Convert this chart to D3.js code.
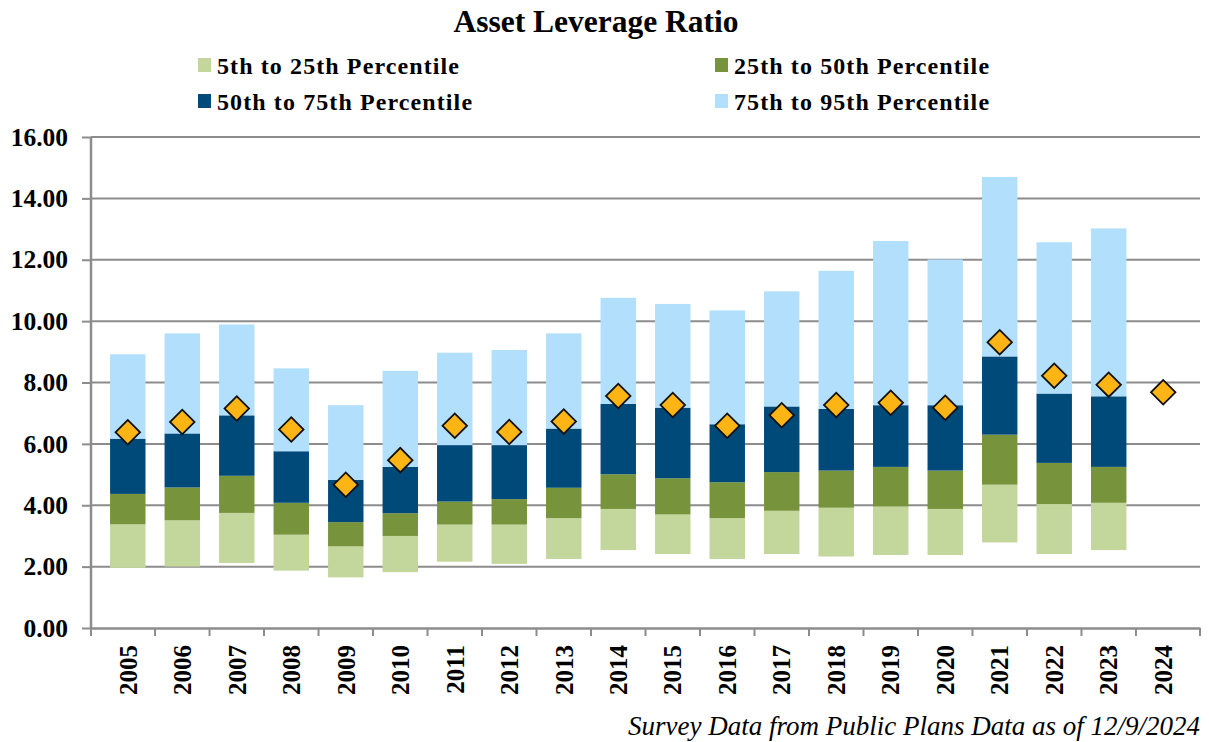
<!doctype html>
<html>
<head>
<meta charset="utf-8">
<title>Asset Leverage Ratio</title>
<style>
*{margin:0;padding:0;}
body{background:white;}
text{font-family:"Liberation Serif","Times New Roman",serif;}
</style>
</head>
<body>
<script src="https://cdn.jsdelivr.net/npm/d3@7"></script>
<script>
// data (percentile boundaries per year)
var years = ["2005","2006","2007","2008","2009","2010","2011","2012","2013","2014",
             "2015","2016","2017","2018","2019","2020","2021","2022","2023","2024"];
var p5  = [1.96,2.00,2.12,1.87,1.65,1.82,2.16,2.09,2.25,2.54,2.41,2.25,2.41,2.33,2.38,2.38,2.79,2.41,2.54,null];
var p25 = [3.38,3.51,3.75,3.04,2.66,3.00,3.37,3.37,3.58,3.88,3.70,3.58,3.82,3.92,3.96,3.88,4.67,4.04,4.08,null];
var p50 = [4.37,4.58,4.96,4.08,3.45,3.74,4.12,4.20,4.57,5.01,4.88,4.75,5.08,5.13,5.25,5.13,6.30,5.38,5.25,null];
var p75 = [6.17,6.34,6.93,5.76,4.83,5.25,5.96,5.96,6.50,7.30,7.18,6.64,7.22,7.14,7.26,7.26,8.85,7.64,7.55,null];
var p95 = [8.92,9.60,9.89,8.46,7.26,8.38,8.97,9.06,9.60,10.76,10.56,10.35,10.97,11.64,12.61,12.01,14.70,12.57,13.02,null];
var aggregate = [6.38,6.71,7.15,6.47,4.67,5.47,6.59,6.39,6.73,7.56,7.27,6.59,6.93,7.27,7.34,7.18,9.31,8.22,7.93,7.68];
var yTicks = [0,2,4,6,8,10,12,14,16];

var seriesNames = ["5th to 25th Percentile","25th to 50th Percentile","50th to 75th Percentile","75th to 95th Percentile"];
var seriesColors = ["#c3d69b","#77933c","#004a7a","#b2dffc"];
var bounds = [p5,p25,p50,p75,p95];

var W = 1209, H = 742;
var margin = {left:91, right:9, top:137, bottom:114};

var svg = d3.select("body").append("svg").attr("width",W).attr("height",H);

var x = d3.scaleBand().domain(years).range([margin.left, W-margin.right]).padding(0.35);
var y = d3.scaleLinear().domain([0,16]).range([H-margin.bottom, margin.top]);

// gridlines
svg.append("g").selectAll("line").data(yTicks.slice(1)).enter().append("line")
  .attr("x1",margin.left).attr("x2",W-margin.right)
  .attr("y1",function(d){return y(d);}).attr("y2",function(d){return y(d);})
  .attr("stroke","#8c8c8c").attr("stroke-width",2);

// stacked percentile bands
for (var s=0; s<4; s++) {
  (function(s){
    svg.append("g").selectAll("rect").data(years.filter(function(d,i){return bounds[s][i]!=null;})).enter()
      .append("rect")
      .attr("x",function(d){return x(d);})
      .attr("width",x.bandwidth())
      .attr("y",function(d){var i=years.indexOf(d);return y(bounds[s+1][i]);})
      .attr("height",function(d){var i=years.indexOf(d);return y(bounds[s][i])-y(bounds[s+1][i]);})
      .attr("fill",seriesColors[s]);
  })(s);
}

// y axis
var yAxis = svg.append("g").attr("transform","translate("+margin.left+",0)")
  .call(d3.axisLeft(y).tickValues(yTicks).tickFormat(d3.format(".2f")).tickSize(9).tickPadding(14));
yAxis.select(".domain").attr("stroke","#8c8c8c").attr("stroke-width",2.5).attr("d","M0,"+(margin.top)+"V"+(H-margin.bottom));
yAxis.selectAll(".tick line").attr("stroke","#8c8c8c").attr("stroke-width",2);
yAxis.selectAll(".tick text").attr("font-size",25.5).attr("font-weight","bold").attr("fill","#000")
  .style("font-family","'Liberation Serif',serif");

// x axis
var xAxis = svg.append("g").attr("transform","translate(0,"+(H-margin.bottom)+")")
  .call(d3.axisBottom(x).tickSize(0).tickSizeOuter(0));
xAxis.select(".domain").attr("stroke","#8c8c8c").attr("stroke-width",2.5);
xAxis.selectAll(".tick text")
  .attr("font-size",25).attr("font-weight","bold").attr("fill","#000")
  .style("font-family","'Liberation Serif',serif")
  .attr("transform","rotate(-90)")
  .attr("text-anchor","end").attr("x",-17).attr("y",0).attr("dy","0.35em");
// category separators
var sep = years.map(function(d){return x(d)-x.step()*x.paddingInner()/2;});
sep.push(W-margin.right);
sep[0] = margin.left;
svg.append("g").selectAll("line").data(sep).enter().append("line")
  .attr("x1",function(d){return d;}).attr("x2",function(d){return d;})
  .attr("y1",H-margin.bottom).attr("y2",H-margin.bottom+8)
  .attr("stroke","#8c8c8c").attr("stroke-width",2);

// aggregate diamonds
var sym = d3.symbol().type(d3.symbolSquare).size(300);
svg.append("g").selectAll("path").data(years).enter().append("path")
  .attr("d",sym)
  .attr("transform",function(d,i){return "translate("+(x(d)+x.bandwidth()/2)+","+y(aggregate[i])+") rotate(45)";})
  .attr("fill","#fdb515").attr("stroke","#111").attr("stroke-width",1.8);

// title
svg.append("text").attr("x",596).attr("y",32).attr("text-anchor","middle")
  .attr("font-size",31.5).attr("font-weight","bold").text("Asset Leverage Ratio");

// legend
var legPos = [[198,58],[715,58],[198,94],[715,94]];
var leg = svg.append("g").selectAll("g").data(seriesNames).enter().append("g")
  .attr("transform",function(d,i){return "translate("+legPos[i][0]+","+legPos[i][1]+")";});
leg.append("rect").attr("width",13).attr("height",14).attr("fill",function(d,i){return seriesColors[i];});
leg.append("text").attr("x",19).attr("y",16).attr("font-size",24).attr("font-weight","bold")
  .attr("letter-spacing",1.1).text(function(d){return d;});

// source note
svg.append("text").attr("x",1200).attr("y",735).attr("text-anchor","end")
  .attr("font-size",27).attr("font-style","italic")
  .text("Survey Data from Public Plans Data as of 12/9/2024");
</script>
</body>
</html>
